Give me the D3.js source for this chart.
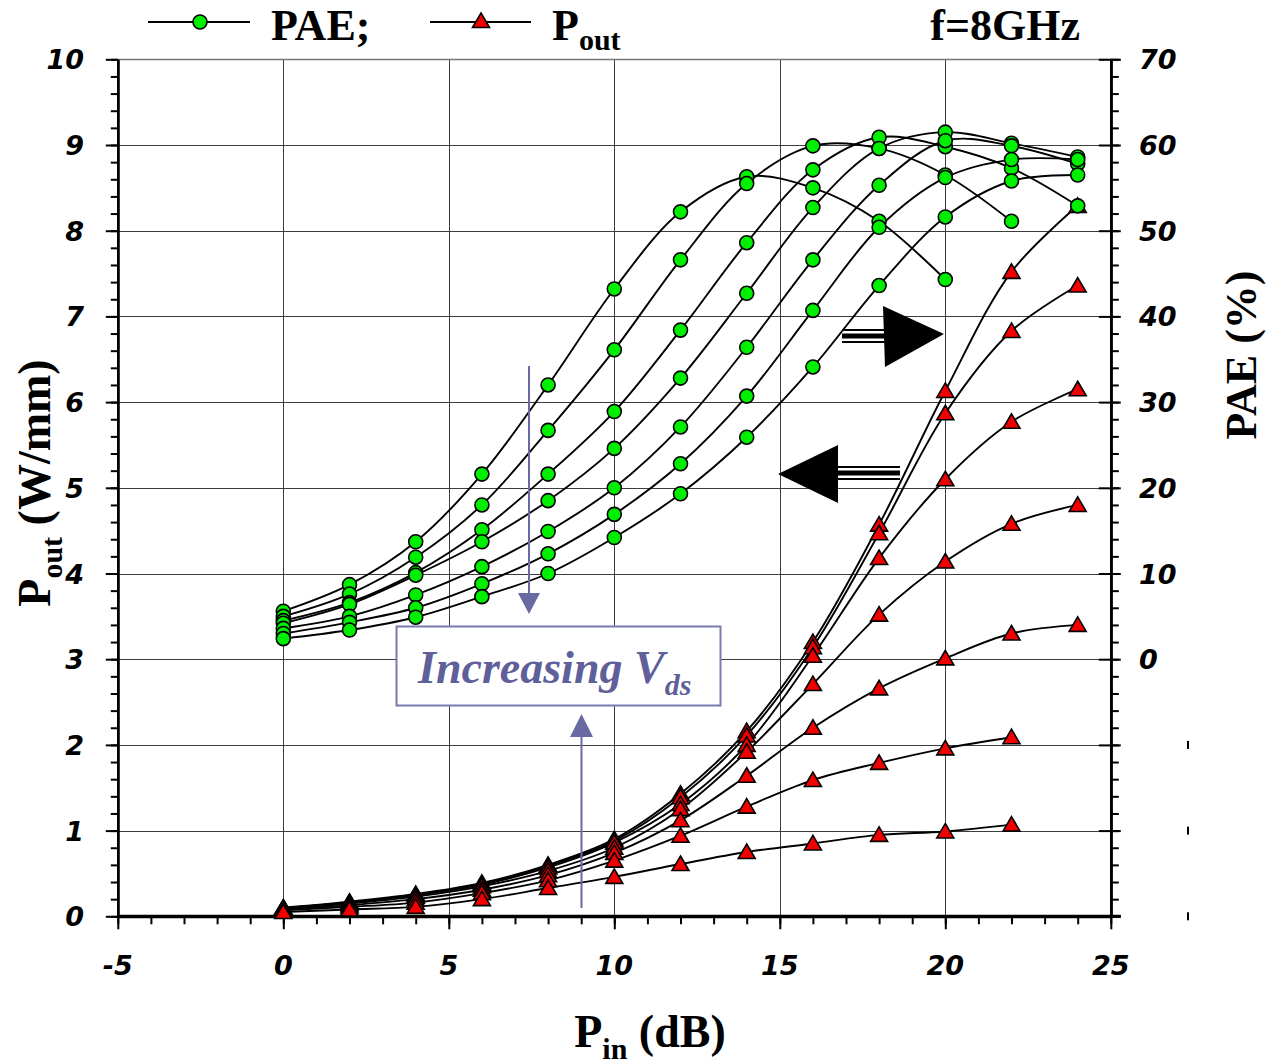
<!DOCTYPE html>
<html><head><meta charset="utf-8">
<script src="https://cdn.jsdelivr.net/npm/d3@7"></script>
<style>body{margin:0;background:#fff}svg{display:block}</style>
</head><body><svg id="c" width="1272" height="1064"></svg>
<script>
// ---------- data ----------
const pinValues = [0, 2, 4, 6, 8, 10, 12, 14, 16, 18, 20, 22, 24];
const xTickValues = [-5, 0, 5, 10, 15, 20, 25];
const yLeftTickValues = [0, 1, 2, 3, 4, 5, 6, 7, 8, 9, 10];
const yRightTickValues = [0, 10, 20, 30, 40, 50, 60, 70];
const yRightGhostTicks = [-10, -20, -30];

// PAE (%) per Vds
const paeVds1 = [5.6, 8.7, 13.7, 21.6, 32.0, 43.2, 52.2, 56.3, 55.0, 51.1, 44.3];
const paeVds2 = [5.0, 7.6, 11.9, 18.0, 26.7, 36.1, 46.6, 55.5, 59.9, 59.6, 56.5, 51.1];
const paeVds3 = [4.5, 6.6, 10.1, 15.1, 21.6, 28.9, 38.4, 48.6, 57.1, 60.9, 59.8, 57.3, 52.9];
const paeVds4 = [4.2, 6.4, 9.8, 13.7, 18.5, 24.6, 32.8, 42.7, 52.7, 59.6, 61.5, 60.2, 58.6];
const paeVds5 = [3.6, 5.0, 7.5, 10.8, 14.9, 20.0, 27.1, 36.4, 46.6, 55.3, 60.5, 59.9, 57.8];
const paeVds6 = [3.0, 4.3, 6.0, 8.8, 12.3, 16.9, 22.8, 30.7, 40.7, 50.4, 56.2, 58.3, 58.3];
const paeVds7 = [2.4, 3.4, 4.9, 7.3, 10.0, 14.2, 19.3, 25.9, 34.1, 43.6, 51.6, 55.8, 56.5];

// Pout (W/mm) per Vds
const poutVds1 = [0.10, 0.17, 0.26, 0.39, 0.60, 0.90, 1.43, 2.16, 3.20, 4.57, 6.13, 7.52, 8.29];
const poutVds2 = [0.10, 0.16, 0.25, 0.38, 0.59, 0.88, 1.39, 2.11, 3.14, 4.47, 5.87, 6.83, 7.36];
const poutVds3 = [0.10, 0.16, 0.25, 0.37, 0.57, 0.86, 1.31, 2.00, 3.04, 4.18, 5.10, 5.77, 6.15];
const poutVds4 = [0.09, 0.15, 0.23, 0.35, 0.53, 0.80, 1.25, 1.92, 2.71, 3.52, 4.14, 4.58, 4.80];
const poutVds5 = [0.08, 0.13, 0.20, 0.31, 0.48, 0.74, 1.12, 1.64, 2.20, 2.66, 3.01, 3.30, 3.40];
const poutVds6 = [0.07, 0.11, 0.16, 0.27, 0.42, 0.65, 0.94, 1.28, 1.59, 1.79, 1.96, 2.09];
const poutVds7 = [0.05, 0.08, 0.11, 0.20, 0.33, 0.46, 0.61, 0.75, 0.85, 0.95, 0.99, 1.07];

const paeSeries = [paeVds1, paeVds2, paeVds3, paeVds4, paeVds5, paeVds6, paeVds7];
const poutSeries = [poutVds1, poutVds2, poutVds3, poutVds4, poutVds5, poutVds6, poutVds7];

// ---------- layout ----------
const svg = d3.select("#c");
svg.append("rect").attr("width", 1272).attr("height", 1064).attr("fill", "#fff");
const x = d3.scaleLinear().domain([-5, 25]).range([117.8, 1110.8]);
const yL = d3.scaleLinear().domain([0, 10]).range([916.3, 59.3]);
const yR = d3.scaleLinear().domain([-30, 70]).range([916.3, 59.3]);

const tickFont = "'DejaVu Sans', sans-serif";
const serif = "'Liberation Serif', 'Times New Roman', serif";

// gridlines
const grid = svg.append("g").attr("stroke", "#3c3c3c").attr("stroke-width", 1).attr("shape-rendering", "crispEdges");
grid.selectAll(".gv").data([0, 5, 10, 15, 20]).join("line")
  .attr("x1", d => Math.round(x(d)) + 0.5).attr("x2", d => Math.round(x(d)) + 0.5)
  .attr("y1", yL(10)).attr("y2", yL(0));
grid.selectAll(".gh").data([1, 2, 3, 4, 5, 6, 7, 8, 9]).join("line")
  .attr("y1", d => Math.round(yL(d)) + 0.5).attr("y2", d => Math.round(yL(d)) + 0.5)
  .attr("x1", x(-5)).attr("x2", x(25));
// top border
svg.append("line").attr("x1", x(-5)).attr("x2", x(25) + 10)
  .attr("y1", Math.round(yL(10)) + 0.5).attr("y2", Math.round(yL(10)) + 0.5)
  .attr("stroke", "#777").attr("stroke-width", 1.5);

// ---------- axes ----------
function styleAxis(g, w) {
  g.selectAll("path.domain").attr("stroke", "#000").attr("stroke-width", w);
  g.selectAll(".tick line").attr("stroke", "#000").attr("stroke-width", 2);
  g.selectAll(".tick text").remove();
}
// bottom
const minorX = d3.range(-5, 26, 1);
svg.append("g").attr("transform", `translate(0,${yL(0)})`)
  .call(d3.axisBottom(x).tickValues(minorX).tickSize(8).tickSizeOuter(0).tickFormat(""))
  .call(g => styleAxis(g, 3));
svg.append("g").attr("transform", `translate(0,${yL(0)})`)
  .call(d3.axisBottom(x).tickValues(xTickValues).tickSize(13).tickSizeOuter(0).tickFormat(""))
  .call(g => { styleAxis(g, 3); g.select("path.domain").attr("d", `M${x(-5)},0H${x(25) + 10}`); });
svg.append("g").selectAll("text").data(xTickValues).join("text")
  .attr("x", d => x(d)).attr("y", 975).attr("text-anchor", "middle")
  .attr("font-family", tickFont).attr("font-weight", "bold").attr("font-style", "italic")
  .attr("font-size", 27).text(d => d);

// left
const minorY = d3.range(0, 10.01, 0.2);
svg.append("g").attr("transform", `translate(${x(-5)},0)`)
  .call(d3.axisLeft(yL).tickValues(minorY).tickSize(7).tickSizeOuter(0).tickFormat(""))
  .call(g => styleAxis(g, 2.5));
svg.append("g").attr("transform", `translate(${x(-5)},0)`)
  .call(d3.axisLeft(yL).tickValues(yLeftTickValues).tickSize(12).tickSizeOuter(0).tickFormat(""))
  .call(g => styleAxis(g, 2.5));
svg.append("g").selectAll("text").data(yLeftTickValues).join("text")
  .attr("x", 84).attr("y", d => yL(d) + 10).attr("text-anchor", "end")
  .attr("font-family", tickFont).attr("font-weight", "bold").attr("font-style", "italic")
  .attr("font-size", 27).text(d => d);

// right
const minorR = d3.range(-30, 70.01, 2);
const majorR = d3.range(-30, 70.01, 10);
svg.append("g").attr("transform", `translate(${x(25)},0)`)
  .call(d3.axisRight(yR).tickValues(minorR).tickSize(8).tickSizeOuter(0).tickFormat(""))
  .call(g => styleAxis(g, 2.5));
svg.append("g").attr("transform", `translate(${x(25)},0)`)
  .call(d3.axisRight(yR).tickValues(majorR).tickSize(10).tickSizeOuter(0).tickFormat(""))
  .call(g => styleAxis(g, 2.5));
svg.append("g").attr("transform", `translate(${x(25)},0)`)
  .call(d3.axisLeft(yR).tickValues(majorR).tickSize(12).tickSizeOuter(0).tickFormat(""))
  .call(g => styleAxis(g, 2.5));
svg.append("g").selectAll("text").data(yRightTickValues).join("text")
  .attr("x", 1139).attr("y", d => yR(d) + 10).attr("text-anchor", "start")
  .attr("font-family", tickFont).attr("font-weight", "bold").attr("font-style", "italic")
  .attr("font-size", 27).text(d => d);
// clipped ghost labels on the right
svg.append("g").selectAll("rect").data(yRightGhostTicks).join("rect")
  .attr("x", 1187).attr("y", d => yR(d) - 4).attr("width", 2).attr("height", 8).attr("fill", "#000");

// ---------- data marks ----------
const line = d3.line().curve(d3.curveCatmullRom.alpha(0.5));
const triPath = "M0,-8L8.5,6.5L-8.5,6.5Z";

// Pout
const gP = svg.append("g");
poutSeries.forEach(s => {
  const pts = s.map((v, i) => [x(pinValues[i]), yL(v)]);
  gP.append("path").attr("d", line(pts)).attr("fill", "none").attr("stroke", "#000").attr("stroke-width", 1.9);
});
poutSeries.forEach(s => {
  gP.append("g").selectAll("path").data(s).join("path")
    .attr("transform", (v, i) => `translate(${x(pinValues[i])},${yL(v)})`)
    .attr("d", triPath).attr("fill", "#f00000").attr("stroke", "#000").attr("stroke-width", 1.6);
});
// PAE
const gA = svg.append("g");
paeSeries.forEach(s => {
  const pts = s.map((v, i) => [x(pinValues[i]), yR(v)]);
  gA.append("path").attr("d", line(pts)).attr("fill", "none").attr("stroke", "#000").attr("stroke-width", 1.9);
});
paeSeries.forEach(s => {
  gA.append("g").selectAll("circle").data(s).join("circle")
    .attr("cx", (v, i) => x(pinValues[i])).attr("cy", v => yR(v)).attr("r", 7)
    .attr("fill", "#00ee00").attr("stroke", "#000").attr("stroke-width", 1.6);
});

// ---------- annotations ----------
const purple = "#6a6aa2";
// down arrow
svg.append("line").attr("x1", 529).attr("x2", 529).attr("y1", 366).attr("y2", 596).attr("stroke", purple).attr("stroke-width", 2);
svg.append("path").attr("d", "M518,593L540,593L529,614Z").attr("fill", purple);
// up arrow
svg.append("line").attr("x1", 581.5).attr("x2", 581.5).attr("y1", 908).attr("y2", 734).attr("stroke", purple).attr("stroke-width", 2);
svg.append("path").attr("d", "M570,737L593,737L581.5,714Z").attr("fill", purple);
// box
svg.append("rect").attr("x", 396.5).attr("y", 626.5).attr("width", 324).attr("height", 79)
  .attr("fill", "#fff").attr("stroke", "#7a7ab0").attr("stroke-width", 2);
const tb = svg.append("text").attr("x", 418).attr("y", 683).attr("font-family", serif)
  .attr("font-weight", "bold").attr("font-style", "italic").attr("font-size", 46).attr("fill", "#5f5f9a");
tb.append("tspan").text("Increasing V");
tb.append("tspan").attr("dy", 12).attr("font-size", 30).text("ds");

// black arrows
function shaft(x1, x2, yc) {
  svg.append("line").attr("x1", x1).attr("x2", x2).attr("y1", yc - 6).attr("y2", yc - 6).attr("stroke", "#000").attr("stroke-width", 2);
  svg.append("line").attr("x1", x1).attr("x2", x2).attr("y1", yc).attr("y2", yc).attr("stroke", "#000").attr("stroke-width", 5);
  svg.append("line").attr("x1", x1).attr("x2", x2).attr("y1", yc + 6).attr("y2", yc + 6).attr("stroke", "#000").attr("stroke-width", 2);
}
shaft(842, 885, 336);
svg.append("path").attr("d", "M883,306L944,334L885,367Z").attr("fill", "#000");
shaft(836, 900, 473);
svg.append("path").attr("d", "M778,474L838,445L838,503Z").attr("fill", "#000");

// ---------- legend & titles ----------
svg.append("line").attr("x1", 148).attr("x2", 250).attr("y1", 22).attr("y2", 22).attr("stroke", "#000").attr("stroke-width", 2);
svg.append("circle").attr("cx", 200).attr("cy", 22).attr("r", 7).attr("fill", "#00ee00").attr("stroke", "#000").attr("stroke-width", 1.6);
svg.append("text").attr("x", 271).attr("y", 40).attr("font-family", serif).attr("font-weight", "bold").attr("font-size", 44).text("PAE;");
svg.append("line").attr("x1", 430).attr("x2", 531).attr("y1", 22).attr("y2", 22).attr("stroke", "#000").attr("stroke-width", 2);
svg.append("path").attr("transform", "translate(481,21)").attr("d", triPath).attr("fill", "#f00000").attr("stroke", "#000").attr("stroke-width", 1.6);
const lp = svg.append("text").attr("x", 552).attr("y", 40).attr("font-family", serif).attr("font-weight", "bold").attr("font-size", 44);
lp.append("tspan").text("P");
lp.append("tspan").attr("dy", 10).attr("font-size", 30).text("out");
svg.append("text").attr("x", 1080).attr("y", 40).attr("text-anchor", "end").attr("font-family", serif)
  .attr("font-weight", "bold").attr("font-size", 44).text("f=8GHz");

// y-left title
const yt = svg.append("text").attr("transform", "translate(50,483) rotate(-90)").attr("text-anchor", "middle")
  .attr("font-family", serif).attr("font-weight", "bold").attr("font-size", 46);
yt.append("tspan").text("P");
yt.append("tspan").attr("dy", 12).attr("font-size", 30).text("out");
yt.append("tspan").attr("dy", -12).text(" (W/mm)");
// y-right title
svg.append("text").attr("transform", "translate(1256,355) rotate(-90)").attr("text-anchor", "middle")
  .attr("font-family", serif).attr("font-weight", "bold").attr("font-size", 44).text("PAE (%)");
// x title
const xt = svg.append("text").attr("x", 650).attr("y", 1047).attr("text-anchor", "middle")
  .attr("font-family", serif).attr("font-weight", "bold").attr("font-size", 46);
xt.append("tspan").text("P");
xt.append("tspan").attr("dy", 12).attr("font-size", 30).text("in");
xt.append("tspan").attr("dy", -12).text(" (dB)");
</script></body></html>
